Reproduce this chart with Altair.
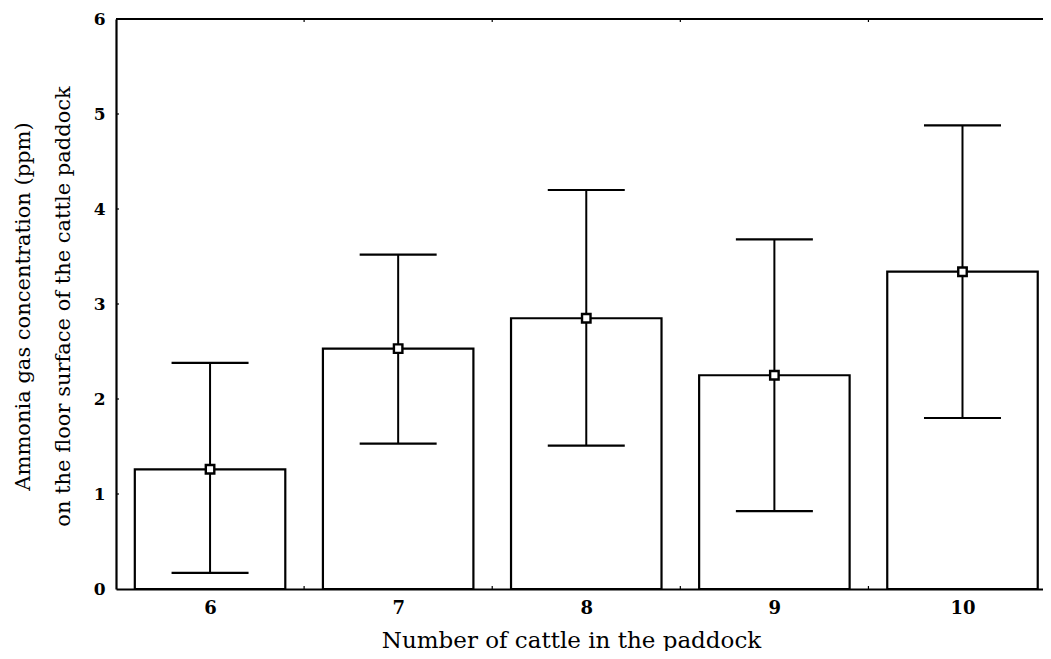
import altair as alt
import pandas as pd

cattle = [6, 7, 8, 9, 10]
mean_ppm = [1.26, 2.53, 2.85, 2.25, 3.34]
upper_ppm = [2.38, 3.52, 4.20, 3.68, 4.88]
lower_ppm = [0.17, 1.53, 1.51, 0.82, 1.80]
y_ticks = [0, 1, 2, 3, 4, 5, 6]
x_minor = [6.5, 7.5, 8.5, 9.5]

df = pd.DataFrame({"cattle": cattle, "mean": mean_ppm, "upper": upper_ppm, "lower": lower_ppm})

xscale = alt.Scale(domain=[5.5, 10.428], nice=False, zero=False)
yscale = alt.Scale(domain=[0, 6], nice=False)

x_axis = alt.Axis(values=cattle, format="d", ticks=False, grid=False,
                  domainColor="black", domainWidth=2.2,
                  labelFont="DejaVu Serif", labelFontWeight="bold", labelFontSize=18,
                  labelColor="black", labelPadding=10,
                  title="Number of cattle in the paddock", titleFont="DejaVu Serif",
                  titleFontWeight="normal", titleFontSize=23, titleColor="black",
                  titleAlign="center", titleBaseline="middle", titleX=455, titleY=51)
y_axis = alt.Axis(values=y_ticks, format="d", ticks=False, grid=False,
                  domainColor="black", domainWidth=2.2,
                  labelFont="DejaVu Serif", labelFontWeight="bold", labelFontSize=17,
                  labelColor="black", labelPadding=11,
                  title=["Ammonia gas concentration (ppm)", "on the floor surface of the cattle paddock"],
                  titleFont="DejaVu Serif", titleFontWeight="normal", titleFontSize=21,
                  titleColor="black", titleAngle=-90, titleAlign="center",
                  titleBaseline="middle", titleLineHeight=40, titleX=-93, titleY=287)

base = alt.Chart(df)

bars = base.transform_calculate(
    x0="datum.cattle - 0.4", x1="datum.cattle + 0.4"
).mark_rect(fill="white", stroke="black", strokeWidth=2.2).encode(
    x=alt.X("x0:Q", scale=xscale, axis=x_axis),
    x2="x1:Q",
    y=alt.Y("mean:Q", scale=yscale, axis=y_axis),
    y2=alt.datum(0),
)

err = base.mark_rule(color="black", strokeWidth=2).encode(
    x="cattle:Q", y="lower:Q", y2="upper:Q"
)
cap_hi = base.mark_tick(color="black", orient="horizontal", size=77, thickness=2.2, opacity=1).encode(
    x="cattle:Q", y="upper:Q"
)
cap_lo = base.mark_tick(color="black", orient="horizontal", size=77, thickness=2.2, opacity=1).encode(
    x="cattle:Q", y="lower:Q"
)
pts = base.mark_square(fill="white", stroke="black", strokeWidth=2.4, size=72, opacity=1).encode(
    x="cattle:Q", y="mean:Q"
)

top_line = alt.Chart(pd.DataFrame({"v": [6]})).mark_rule(color="black", strokeWidth=2.2).encode(
    y=alt.Y("v:Q", scale=yscale)
)

yt = alt.Chart(pd.DataFrame({"v": y_ticks[1:-1]})).mark_rule(color="black", strokeWidth=1.2).encode(
    y=alt.Y("v:Q", scale=yscale), x=alt.value(0), x2=alt.value(3)
)
xb = alt.Chart(pd.DataFrame({"v": x_minor})).mark_rule(color="black", strokeWidth=1.2).encode(
    x=alt.X("v:Q", scale=xscale), y=alt.value(570), y2=alt.value(567)
)
xt = alt.Chart(pd.DataFrame({"v": x_minor})).mark_rule(color="black", strokeWidth=1.2).encode(
    x=alt.X("v:Q", scale=xscale), y=alt.value(0), y2=alt.value(3)
)

chart = alt.layer(bars, err, cap_hi, cap_lo, pts, top_line, yt, xb, xt).properties(
    width=927, height=570,
    autosize="none",
    padding={"left": 108, "top": 11, "right": 0, "bottom": 62},
    background="white",
).configure_view(stroke=None)

chart.save("out.html", embed_options={"renderer": "svg", "actions": False})
